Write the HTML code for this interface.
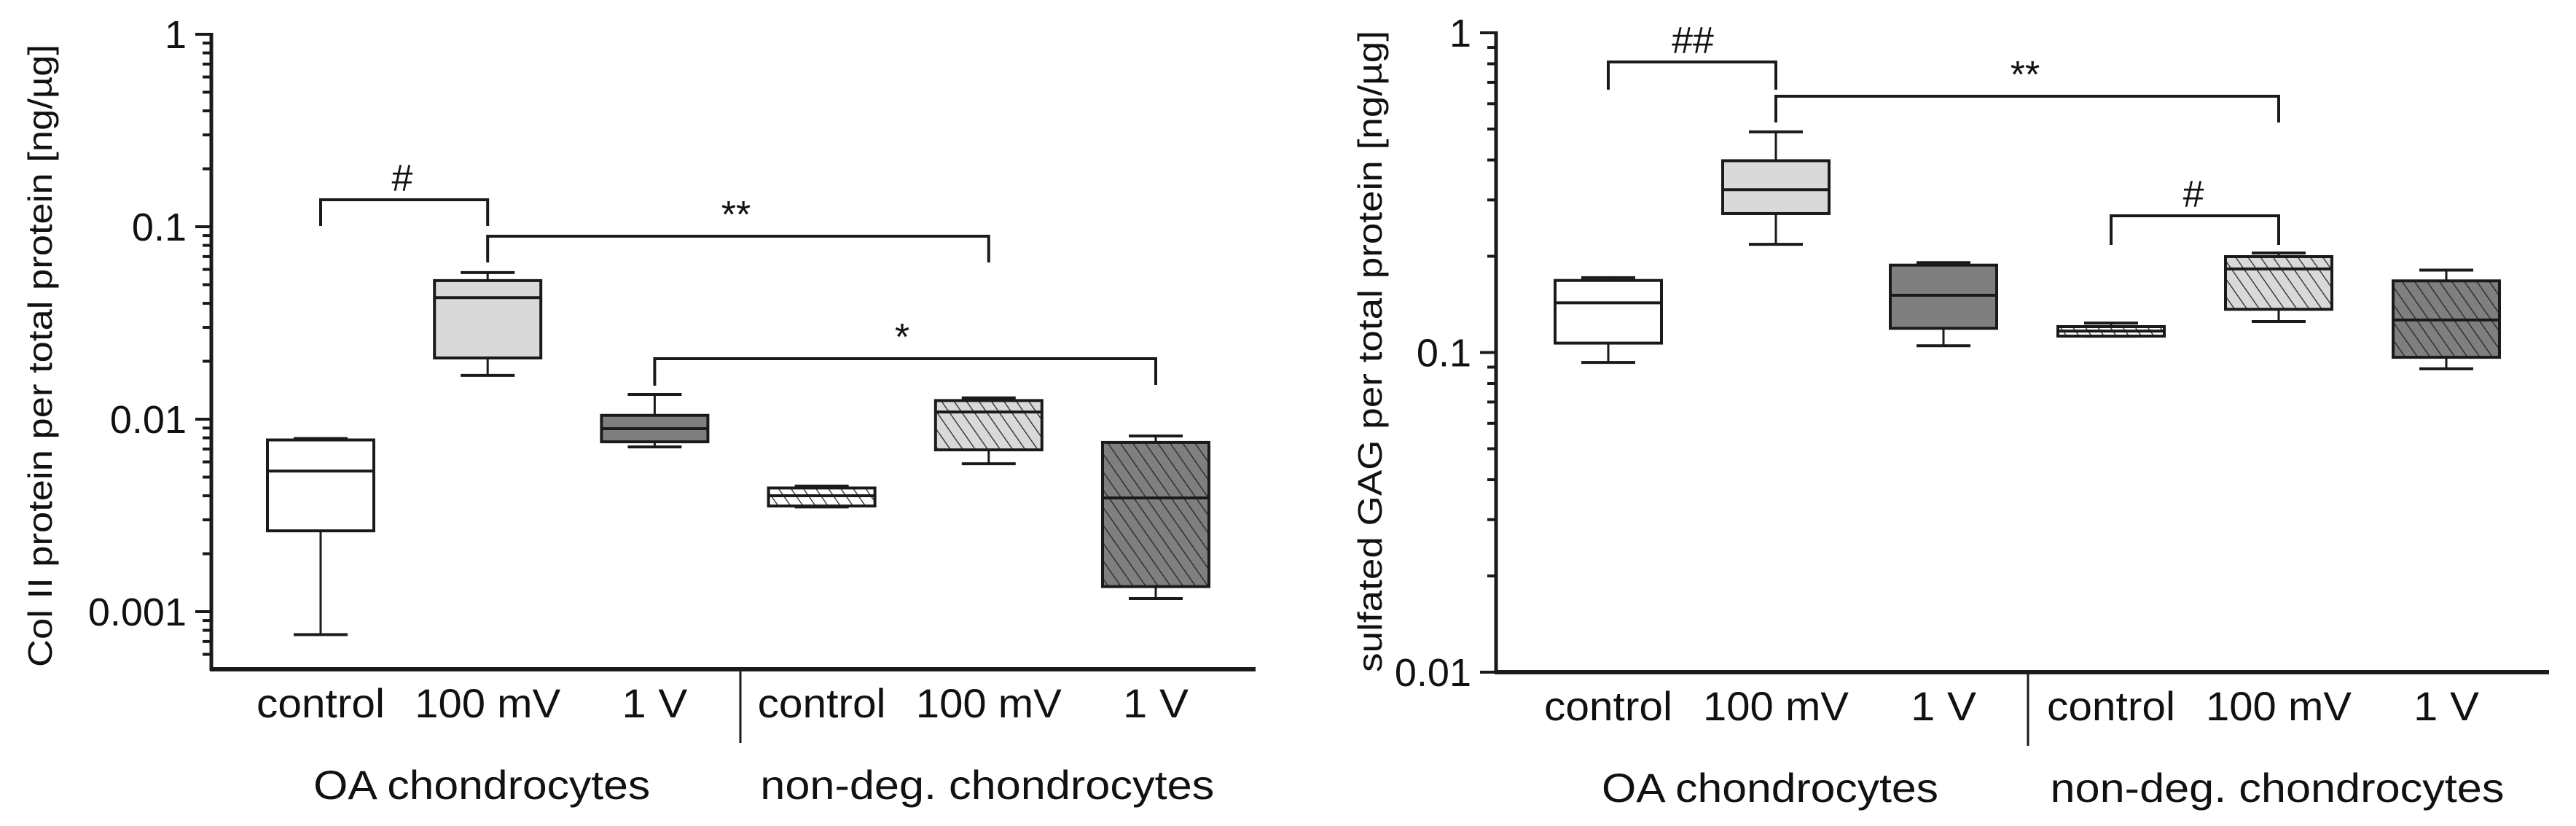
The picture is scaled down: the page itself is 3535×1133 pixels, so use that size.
<!DOCTYPE html>
<html><head><meta charset="utf-8"><style>
html,body{margin:0;padding:0;background:#fff;}
svg text{font-family:"Liberation Sans Narrow","Liberation Sans",sans-serif;fill:#111;}
</style></head><body>
<svg id="fig" width="3535" height="1128" viewBox="0 0 3535 1128" xmlns="http://www.w3.org/2000/svg">
<defs>
<pattern id="hatch" patternUnits="userSpaceOnUse" width="14" height="14" patternTransform="rotate(-35)">
<line x1="0" y1="0" x2="0" y2="14" stroke="#222" stroke-width="3"/>
</pattern>
</defs>
</svg>
<script>
const categories = ["control","100 mV","1 V","control","100 mV","1 V"];
const groups = ["OA chondrocytes","non-deg. chondrocytes"];
const colLow  = [0.00076,0.0169,0.00718,0.0035,0.00587,0.00117];
const colQ1   = [0.00263,0.0208,0.00763,0.00354,0.00693,0.00135];
const colMed  = [0.00538,0.0428,0.00893,0.0040,0.0109,0.0039];
const colQ3   = [0.0078,0.0525,0.01047,0.00439,0.0125,0.00757];
const colHigh = [0.00794,0.0578,0.01345,0.00449,0.0129,0.00818];
const gagLow  = [0.0931,0.218,0.105,0.1125,0.125,0.0889];
const gagQ1   = [0.107,0.272,0.119,0.1125,0.1365,0.0966];
const gagMed  = [0.143,0.323,0.151,0.1167,0.1825,0.1264];
const gagQ3   = [0.168,0.398,0.1876,0.1205,0.1995,0.1675];
const gagHigh = [0.1714,0.490,0.191,0.1236,0.2048,0.181];
const colTicks = ["1","0.1","0.01","0.001"];
const gagTicks = ["1","0.1","0.01"];
const fills = ["#ffffff","#d9d9d9","#7f7f7f","#ffffff","#d9d9d9","#7f7f7f"];
const hatched = [false,false,false,true,true,true];

const svg = document.getElementById('fig');
const NS = "http://www.w3.org/2000/svg";
function mk(tag, attrs, parent){
  const e = document.createElementNS(NS, tag);
  for (const k in attrs) e.setAttribute(k, attrs[k]);
  (parent||svg).appendChild(e); return e;
}
function line(x1,y1,x2,y2,w,p){return mk('line',{x1:x1,y1:y1,x2:x2,y2:y2,stroke:'#1a1a1a','stroke-width':w||4},p);}

function chart(cfg){
  const g = mk('g',{});
  
  
  const yS = v => cfg.y1 + (0 - Math.log10(v)) * cfg.dec;
  const xS = i => cfg.x0 + i * cfg.step;
  const ya = line(cfg.ax, cfg.y1-2, cfg.ax, cfg.yb+2, 5, g);
  
  
  const xa = line(cfg.ax-2, cfg.yb, cfg.xend, cfg.yb, 6, g);
  
  
  for (let d = 0; d < cfg.ticks.length; d++) {
    const v = Math.pow(10, -d);
    const y = yS(v);
    line(cfg.ax-22, y, cfg.ax, y, 4, g);
    const t = mk('text',{x:cfg.ax-34, y:y+19, 'font-size':54, 'text-anchor':'end'}, g);
    t.textContent = cfg.ticks[d];
    
    
    for (let m = 2; m <= 9; m++) {
      const mv = v / 10 * m;
      const my = yS(mv);
      if (my <= cfg.yb - 4 && my >= cfg.y1) line(cfg.ax-12, my, cfg.ax, my, 4, g);
    }
  }
  const dv = line(cfg.div, cfg.yb, cfg.div, cfg.yb+101, 3, g);
  
  
  const hw = 73, cw = 37;
  for (let i = 0; i < categories.length; i++) {
    const x = xS(i);
    const bg = mk('g',{}, g);
    
    
    const hi = yS(cfg.high[i]), q3 = yS(cfg.q3[i]), md = yS(cfg.med[i]), q1 = yS(cfg.q1[i]), lo = yS(cfg.low[i]);
    line(x, hi, x, q3, 3, bg); line(x-cw, hi, x+cw, hi, 4, bg);
    line(x, q1, x, lo, 3, bg); line(x-cw, lo, x+cw, lo, 4, bg);
    mk('rect',{x:x-hw, y:q3, width:2*hw, height:Math.max(q1-q3,1), fill:fills[i]}, bg);
    if (hatched[i]) mk('rect',{x:x-hw, y:q3, width:2*hw, height:Math.max(q1-q3,1), fill:'url(#hatch)', opacity:0.85}, bg);
    mk('rect',{x:x-hw, y:q3, width:2*hw, height:Math.max(q1-q3,1), fill:'none', stroke:'#1a1a1a','stroke-width':4}, bg);
    line(x-hw, md, x+hw, md, 4, bg);
    const t = mk('text',{x:x, y:cfg.yb+66, 'font-size':56, 'text-anchor':'middle', textLength:[176,200,90,176,200,90][i], lengthAdjust:'spacingAndGlyphs'}, g);
    t.textContent = categories[i];
    
    
  }
  for (let k = 0; k < groups.length; k++) {
    const t = mk('text',{x:[xS(1)-8, xS(4)-2][k], y:cfg.yb+178, 'font-size':56, 'text-anchor':'middle', textLength:[462,623][k], lengthAdjust:'spacingAndGlyphs'}, g);
    t.textContent = groups[k];
    
    
  }
  for (const b of cfg.brackets) {
    const bg = mk('g',{}, g);
    
    
    const xa_ = xS(b.a), xb = xS(b.b);
    line(xa_, b.top, xb, b.top, 4, bg);
    line(xa_, b.top-2, xa_, b.la, 4, bg);
    line(xb, b.top-2, xb, b.lb, 4, bg);
    const t = mk('text',{x:b.tx, y:b.top-12, 'font-size':52, 'text-anchor':'middle'}, bg);
    t.textContent = b.label;
  }
  const tt = mk('text',{x:0, y:0, 'font-size':46, 'text-anchor':'middle', textLength:cfg.titleLen, lengthAdjust:'spacingAndGlyphs', transform:'translate('+cfg.tx+','+cfg.ty+') rotate(-90)', style:'font-family:"Liberation Sans",sans-serif'}, g);
  tt.textContent = cfg.title;
  
  
}

chart({name:'col2-chart', ax:290, y1:47, dec:264, yb:918, xend:1723, x0:440, step:229.2, div:1016,
  low:colLow, q1:colQ1, med:colMed, q3:colQ3, high:colHigh, ticks:colTicks,
  title:'Col II protein per total protein [ng/µg]', tx:71, ty:488, titleLen:854,
  brackets:[{a:0,b:1,top:274,la:310,lb:310,label:'#',tx:552},
            {a:1,b:4,top:324,la:360,lb:360,label:'**',tx:1010},
            {a:2,b:5,top:492,la:529,lb:528,label:'*',tx:1238}]});
chart({name:'gag-chart', ax:2053, y1:45, dec:438.5, yb:922, xend:3498, x0:2207, step:230, div:2783,
  low:gagLow, q1:gagQ1, med:gagMed, q3:gagQ3, high:gagHigh, ticks:gagTicks,
  title:'sulfated GAG per total protein [ng/µg]', tx:1896, ty:482, titleLen:880,
  brackets:[{a:0,b:1,top:85,la:123,lb:123,label:'##',tx:2323},
            {a:1,b:4,top:132,la:168,lb:168,label:'**',tx:2779},
            {a:3,b:4,top:296,la:336,lb:336,label:'#',tx:3010}]});
</script>
</body></html>
